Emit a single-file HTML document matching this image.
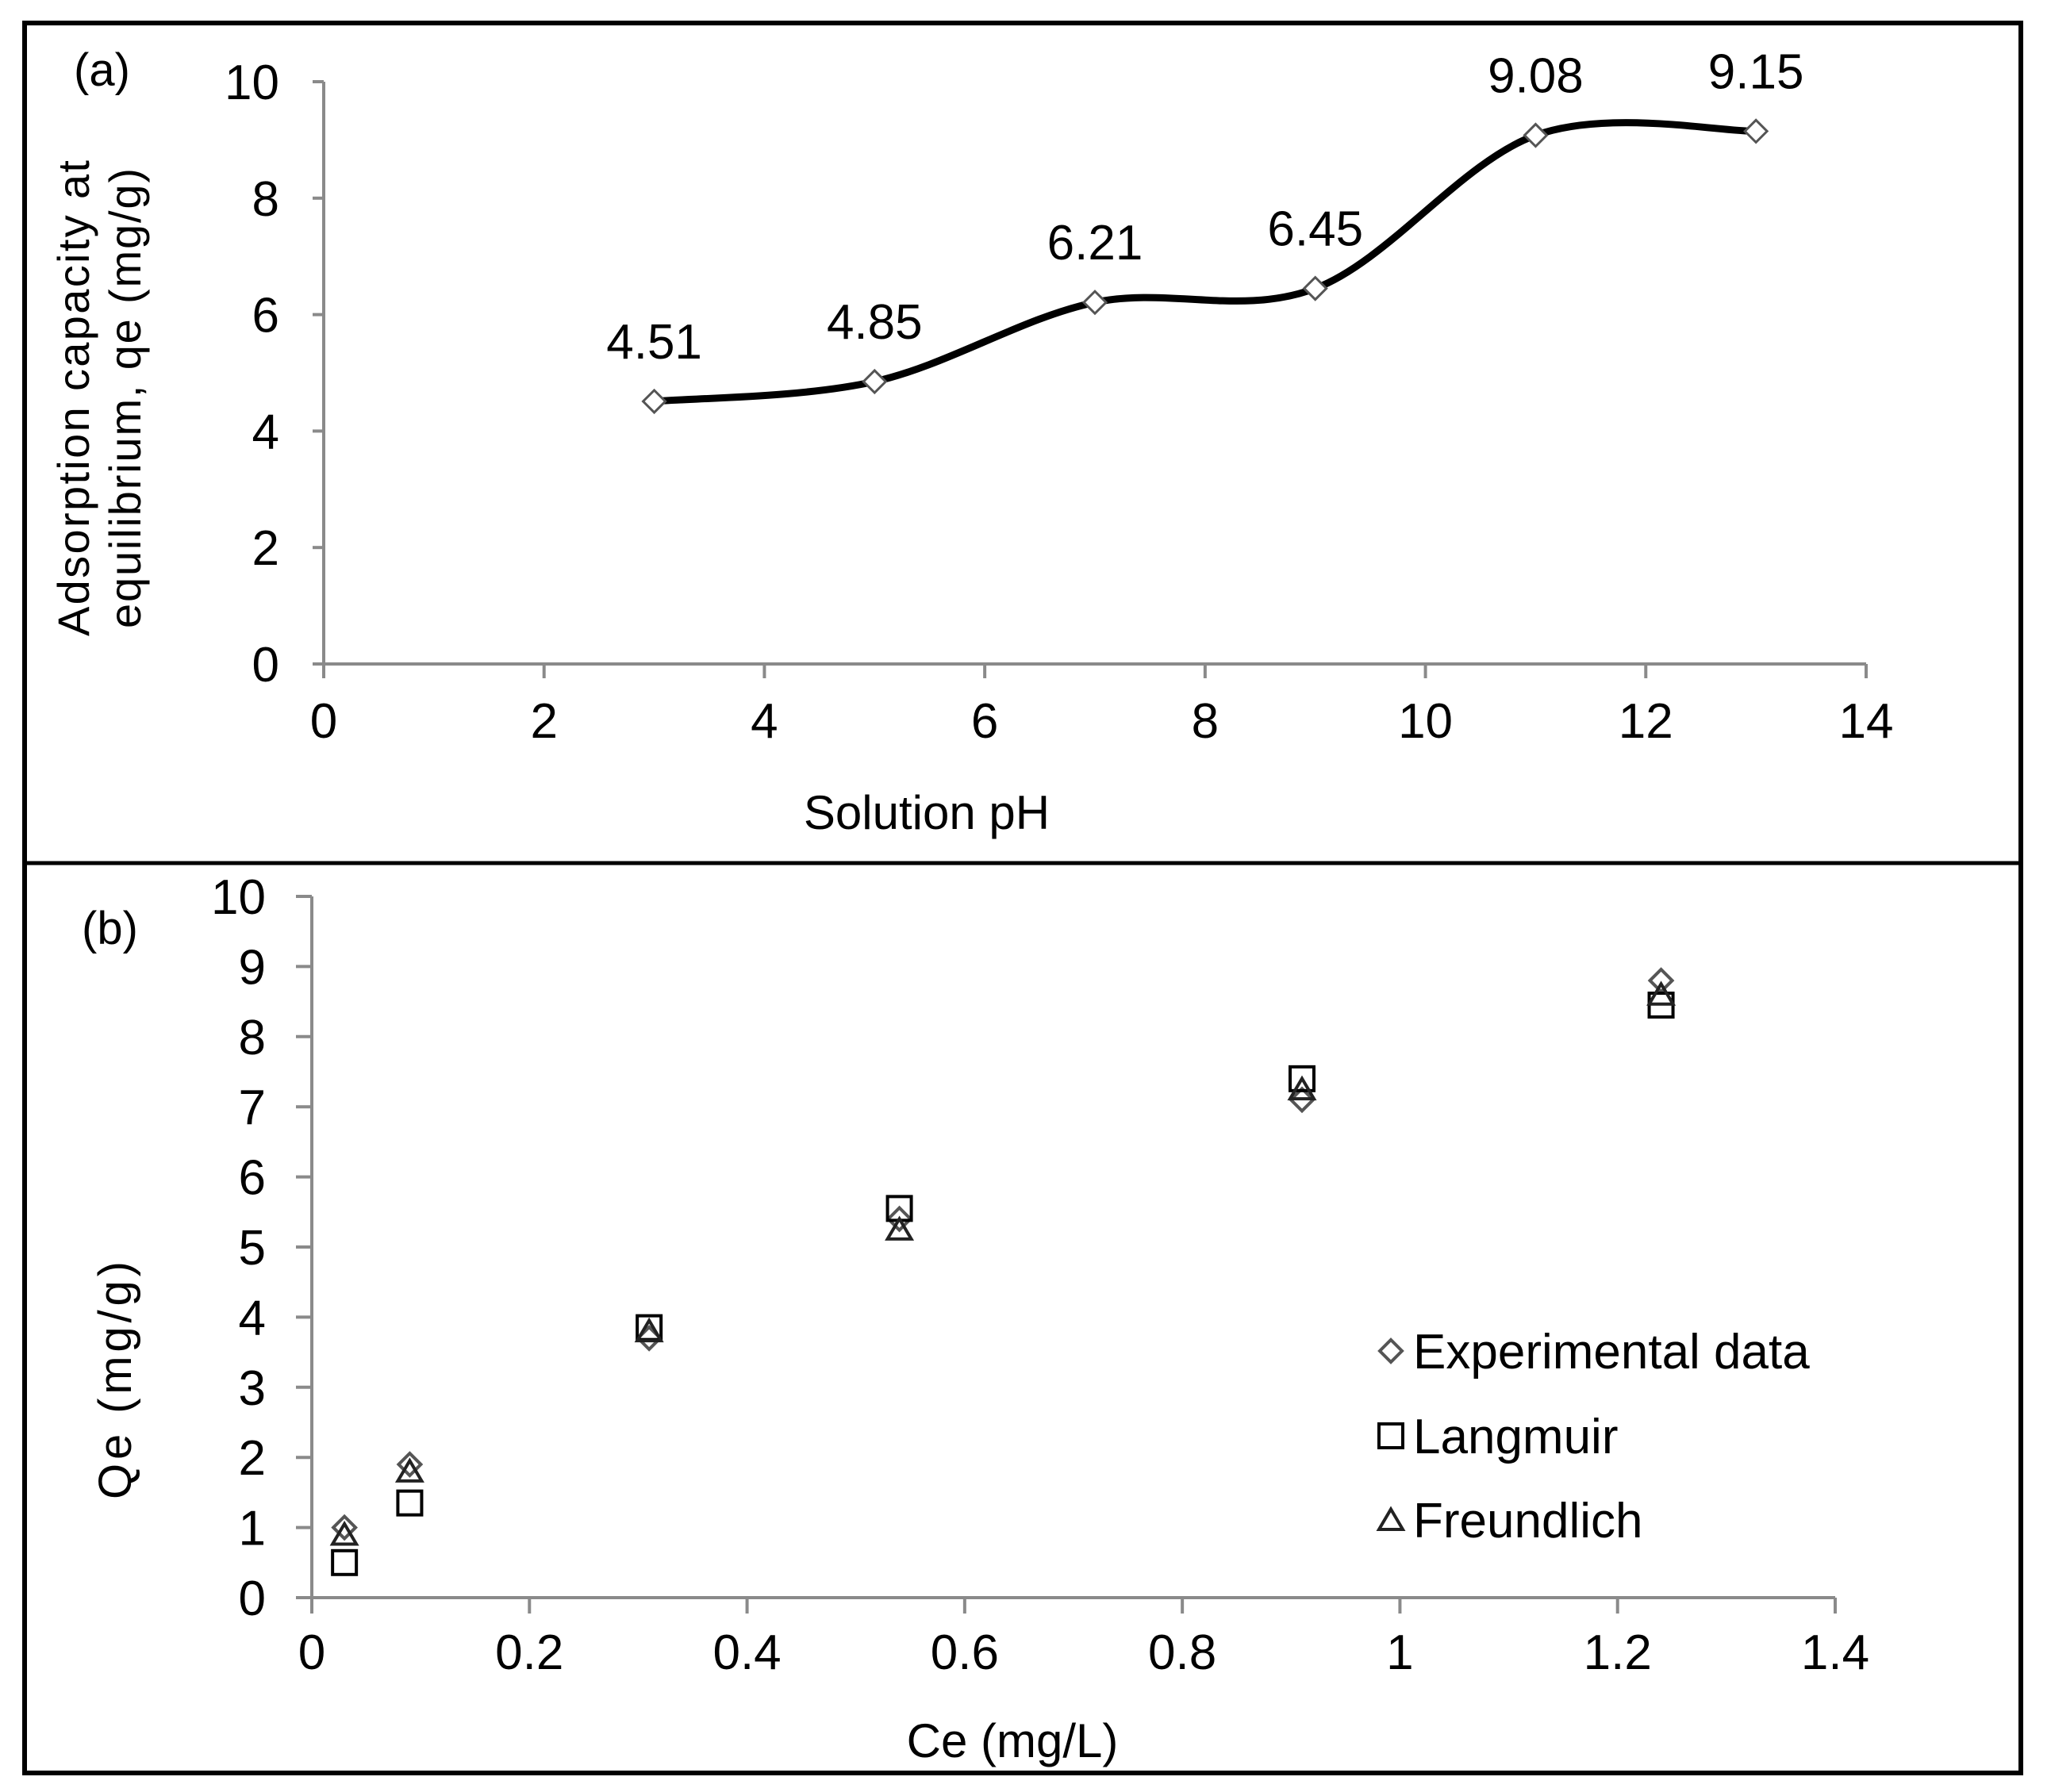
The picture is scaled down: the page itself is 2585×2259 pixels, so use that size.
<!DOCTYPE html>
<html><head><meta charset="utf-8"><style>
html,body{margin:0;padding:0;background:#fff;}
svg{display:block;font-family:"Liberation Sans",Arial,sans-serif;}
</style></head><body>
<svg id="fig" width="2585" height="2259" viewBox="0 0 2585 2259" xmlns="http://www.w3.org/2000/svg">
<rect x="31" y="29" width="2516" height="2206" fill="#fff" stroke="#000" stroke-width="6"/>
<line x1="31" y1="1088" x2="2547" y2="1088" stroke="#000" stroke-width="5"/>
<g id="pa"></g>
<g id="pb"></g>
<text x="93" y="108" font-size="58">(a)</text>
<text x="103" y="1190" font-size="58">(b)</text>
<text transform="translate(112,502) rotate(-90)" text-anchor="middle" font-size="56" textLength="600">Adsorption capacity at</text>
<text transform="translate(177,502) rotate(-90)" text-anchor="middle" font-size="56" textLength="580">equilibrium, qe (mg/g)</text>
<text x="1168" y="1045" text-anchor="middle" font-size="60">Solution pH</text>
<text transform="translate(165,1740) rotate(-90)" text-anchor="middle" font-size="58" textLength="300">Qe (mg/g)</text>
<text x="1276" y="2215" text-anchor="middle" font-size="60">Ce (mg/L)</text>
</svg>
<script>
// Panel (a) data
const phValues = [3, 5, 7, 9, 11, 13];
const qeValues = [4.51, 4.85, 6.21, 6.45, 9.08, 9.15];
const qeLabels = ["4.51", "4.85", "6.21", "6.45", "9.08", "9.15"];
const aXTicks = [0, 2, 4, 6, 8, 10, 12, 14];
const aYTicks = [0, 2, 4, 6, 8, 10];
// Panel (b) data
const ceValues = [0.03, 0.09, 0.31, 0.54, 0.91, 1.24];
const expValues = [1.0, 1.9, 3.7, 5.4, 7.1, 8.8];
const langValues = [0.5, 1.35, 3.85, 5.55, 7.4, 8.45];
const freuValues = [0.9, 1.8, 3.8, 5.25, 7.25, 8.6];
const bXTicks = [0, 0.2, 0.4, 0.6, 0.8, 1, 1.2, 1.4];
const bXTickLabels = ["0", "0.2", "0.4", "0.6", "0.8", "1", "1.2", "1.4"];
const bYTicks = [0,1,2,3,4,5,6,7,8,9,10];
const legendNames = ["Experimental data", "Langmuir", "Freundlich"];

const NS = "http://www.w3.org/2000/svg";
function mk(parent, tag, attrs, text){
  const e = document.createElementNS(NS, tag);
  for (const k in attrs) e.setAttribute(k, attrs[k]);
  if (text !== undefined) e.textContent = text;
  parent.appendChild(e); return e;
}
const AX = "#8a8a8a";

// ---- Panel a ----
const pa = document.getElementById('pa');
const ax = v => 408 + (v - 0) / 14 * (2352 - 408);
const ay = v => 837 - v / 10 * (837 - 103);
let e;
e = mk(pa, 'line', {x1: ax(0), y1: ay(0), x2: ax(0), y2: ay(10), stroke: AX, 'stroke-width': 4});
 
e = mk(pa, 'line', {x1: ax(0) - 14, y1: ay(0), x2: ax(14), y2: ay(0), stroke: AX, 'stroke-width': 4});
 
aYTicks.forEach(t => {
  e = mk(pa, 'line', {x1: ax(0) - 14, y1: ay(t), x2: ax(0), y2: ay(t), stroke: AX, 'stroke-width': 4});
   
  e = mk(pa, 'text', {x: 352, y: ay(t) + 22, 'text-anchor': 'end', 'font-size': 62}, String(t));
   
});
aXTicks.forEach(t => {
  e = mk(pa, 'line', {x1: ax(t), y1: ay(0), x2: ax(t), y2: ay(0) + 18, stroke: AX, 'stroke-width': 4});
   
  e = mk(pa, 'text', {x: ax(t), y: 930, 'text-anchor': 'middle', 'font-size': 62}, String(t));
   
});
const pts = phValues.map((p, i) => [ax(p), ay(qeValues[i])]);
let d = `M${pts[0][0]},${pts[0][1]}`;
for (let i = 0; i < pts.length - 1; i++) {
  const p0 = pts[Math.max(0, i - 1)], p1 = pts[i], p2 = pts[i + 1], p3 = pts[Math.min(pts.length - 1, i + 2)];
  const t = 1/6;
  const c1 = [p1[0] + (p2[0] - p0[0]) * t, p1[1] + (p2[1] - p0[1]) * t];
  const c2 = [p2[0] - (p3[0] - p1[0]) * t, p2[1] - (p3[1] - p1[1]) * t];
  d += ` C${c1[0]},${c1[1]} ${c2[0]},${c2[1]} ${p2[0]},${p2[1]}`;
}
e = mk(pa, 'path', {d: d, fill: 'none', stroke: '#000', 'stroke-width': 9});
 
pts.forEach((p, i) => {
  const s = 14;
  e = mk(pa, 'path', {d: `M${p[0]-s},${p[1]} L${p[0]},${p[1]-s} L${p[0]+s},${p[1]} L${p[0]},${p[1]+s} Z`, fill: '#fff', stroke: '#555', 'stroke-width': 3});
   
  e = mk(pa, 'text', {x: p[0], y: p[1] - 54, 'text-anchor': 'middle', 'font-size': 62}, qeLabels[i]);
   
});

// ---- Panel b ----
const pb = document.getElementById('pb');
const bx = v => 393 + v / 1.4 * (2313 - 393);
const by = v => 2014 - v / 10 * (2014 - 1130);
e = mk(pb, 'line', {x1: bx(0), y1: by(0), x2: bx(0), y2: by(10), stroke: AX, 'stroke-width': 4});
 
e = mk(pb, 'line', {x1: bx(0), y1: by(0), x2: bx(1.4), y2: by(0), stroke: AX, 'stroke-width': 4});
 
bYTicks.forEach(t => {
  e = mk(pb, 'line', {x1: bx(0) - 20, y1: by(t), x2: bx(0), y2: by(t), stroke: AX, 'stroke-width': 4});
   
  e = mk(pb, 'text', {x: 335, y: by(t) + 22, 'text-anchor': 'end', 'font-size': 62}, String(t));
   
});
bXTicks.forEach((t, i) => {
  e = mk(pb, 'line', {x1: bx(t), y1: by(0), x2: bx(t), y2: by(0) + 20, stroke: AX, 'stroke-width': 4});
   
  e = mk(pb, 'text', {x: bx(t), y: 2104, 'text-anchor': 'middle', 'font-size': 62}, bXTickLabels[i]);
   
});
function diamond(g, x, y){ const s = 14; return mk(g, 'path', {d:`M${x-s},${y} L${x},${y-s} L${x+s},${y} L${x},${y+s} Z`, fill:'none', stroke:'#555', 'stroke-width':4}); }
function square(g, x, y){ return mk(g, 'rect', {x:x-15, y:y-15, width:30, height:30, fill:'none', stroke:'#000', 'stroke-width':4}); }
function tri(g, x, y){ const s = 15; return mk(g, 'path', {d:`M${x-s},${y+s*0.8} L${x},${y-s*0.9} L${x+s},${y+s*0.8} Z`, fill:'none', stroke:'#222', 'stroke-width':4}); }
ceValues.forEach((c, i) => {
  e = diamond(pb, bx(c), by(expValues[i]));
   
  e = square(pb, bx(c), by(langValues[i]));
   
  e = tri(pb, bx(c), by(freuValues[i]));
   
});
const legY = [1725, 1832, 1938];
const markers = [diamond, square, tri];
legendNames.forEach((n, i) => {
  e = markers[i](pb, 1753, legY[i] - 22);
   
  e = mk(pb, 'text', {x: 1781, y: legY[i], 'font-size': 62}, n);
   
});
</script>
</body></html>
